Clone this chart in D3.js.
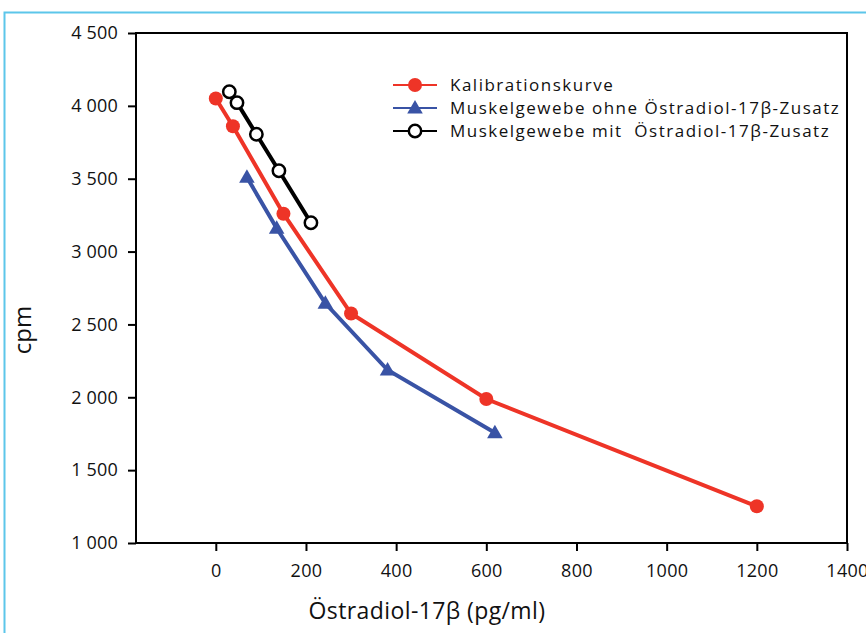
<!DOCTYPE html>
<html>
<head>
<meta charset="utf-8">
<script src="https://cdn.jsdelivr.net/npm/d3@7"></script>
<style>
body{margin:0;background:#fff;}
svg{display:block;}
</style>
</head>
<body>
<div id="chart"></div>
<script>
// values
var kalibX = [0, 38, 150, 300, 600, 1200];
var kalibY = [4050, 3860, 3260, 2575, 1988, 1252];
var ohneX = [69, 135, 243, 381, 619];
var ohneY = [3510, 3160, 2645, 2187, 1757];
var mitX = [30, 47, 90, 140, 211];
var mitY = [4097, 4022, 3805, 3555, 3198];
var xTicks = [0, 200, 400, 600, 800, 1000, 1200, 1400];
var yTicks = [1000, 1500, 2000, 2500, 3000, 3500, 4000, 4500];
var seriesNames = ["Kalibrationskurve", "Muskelgewebe ohne Östradiol-17β-Zusatz", "Muskelgewebe mit  Östradiol-17β-Zusatz"];

var W = 866, H = 633;
var pLeft = 136, pRight = 847, pTop = 33, pBottom = 543;

var svg = d3.select("#chart").append("svg")
    .attr("width", W)
    .attr("height", H);

// light blue frame round the figure
svg.append("rect")
    .attr("x", 4.5).attr("y", 12.5)
    .attr("width", 900).attr("height", 700)
    .attr("fill", "none")
    .attr("stroke", "#5cc6ea")
    .attr("stroke-width", 2);

var x = d3.scaleLinear().domain([-177, 1400]).range([pLeft, pRight]);
var y = d3.scaleLinear().domain([1000, 4500]).range([pBottom, pTop]);

var fmtY = function(d){ return String(d).replace(/(\d)(\d{3})$/, "$1 $2"); };

// plot box
svg.append("rect")
    .attr("x", pLeft).attr("y", pTop)
    .attr("width", pRight - pLeft).attr("height", pBottom - pTop)
    .attr("fill", "none")
    .attr("stroke", "#000")
    .attr("stroke-width", 2);

var gx = svg.append("g")
    .attr("transform", "translate(0," + pBottom + ")")
    .call(d3.axisBottom(x).tickValues(xTicks).tickSize(8).tickSizeOuter(0).tickFormat(d3.format("d")));
gx.select(".domain").remove();
gx.selectAll("line").attr("stroke", "#000").attr("stroke-width", 2);
gx.selectAll("text")
    .attr("y", 34)
    .attr("dy", "0")
    .style("font-family", "'Open Sans', sans-serif")
    .style("font-size", "18px")
    .style("letter-spacing", "0.3px")
    .attr("fill", "#111");

var gy = svg.append("g")
    .attr("transform", "translate(" + pLeft + ",0)")
    .call(d3.axisLeft(y).tickValues(yTicks).tickSize(8).tickSizeOuter(0).tickFormat(fmtY));
gy.select(".domain").remove();
gy.selectAll("line").attr("stroke", "#000").attr("stroke-width", 2);
gy.selectAll("text")
    .attr("x", -18)
    .style("font-family", "'Open Sans', sans-serif")
    .style("font-size", "18px")
    .style("letter-spacing", "0.2px")
    .attr("fill", "#111");

// axis titles
svg.append("text")
    .attr("transform", "translate(31,330) rotate(-90)")
    .attr("text-anchor", "middle")
    .style("font-family", "'Open Sans', sans-serif")
    .style("font-size", "24px")
    .attr("fill", "#111")
    .text("cpm");

svg.append("text")
    .attr("x", 427).attr("y", 619)
    .attr("text-anchor", "middle")
    .style("font-family", "'Open Sans', sans-serif")
    .style("font-size", "23px")
    .style("letter-spacing", "0.4px")
    .attr("fill", "#111")
    .text("Östradiol-17β (pg/ml)");

var line = d3.line()
    .x(function(d){ return x(d[0]); })
    .y(function(d){ return y(d[1]); });

var series = [
    {name: seriesNames[0], xs: kalibX, ys: kalibY, color: "#ee3427", shape: "circle"},
    {name: seriesNames[1], xs: ohneX, ys: ohneY, color: "#3953a5", shape: "triangle"},
    {name: seriesNames[2], xs: mitX, ys: mitY, color: "#000000", shape: "open"}
];

function drawMarker(g, s, cx, cy){
    if(s.shape == "circle"){
        g.append("circle").attr("cx", cx).attr("cy", cy).attr("r", 7).attr("fill", s.color);
    } else if(s.shape == "triangle"){
        g.append("path")
            .attr("d", d3.symbol().type(d3.symbolTriangle).size(105)())
            .attr("transform", "translate(" + cx + "," + (cy + 1) + ")")
            .attr("fill", s.color);
    } else {
        g.append("path")
            .attr("d", d3.symbol().type(d3.symbolCircle).size(120)())
            .attr("transform", "translate(" + cx + "," + cy + ")")
            .attr("fill", "#fff")
            .attr("stroke", s.color)
            .attr("stroke-width", 2.5);
    }
}

var plot = svg.append("g");
series.forEach(function(s){
    var pts = s.xs.map(function(v, i){ return [v, s.ys[i]]; });
    plot.append("path")
        .datum(pts)
        .attr("d", line)
        .attr("fill", "none")
        .attr("stroke", s.color)
        .attr("stroke-width", 4);
    pts.forEach(function(p){
        drawMarker(plot, s, x(p[0]), y(p[1]));
    });
});

// legend
var legend = svg.append("g");
series.forEach(function(s, i){
    var ly = 85 + i * 23;
    legend.append("line")
        .attr("x1", 393).attr("x2", 437)
        .attr("y1", ly).attr("y2", ly)
        .attr("stroke", s.color)
        .attr("stroke-width", 2);
    drawMarker(legend, s, 415, ly);
    legend.append("text")
        .attr("x", 450).attr("y", ly + 6)
        .style("font-family", "'Open Sans', sans-serif")
        .style("font-size", "17px")
        .style("letter-spacing", "1.5px")
        .style("white-space", "pre")
        .attr("fill", "#111")
        .text(s.name);
});
</script>
</body>
</html>
